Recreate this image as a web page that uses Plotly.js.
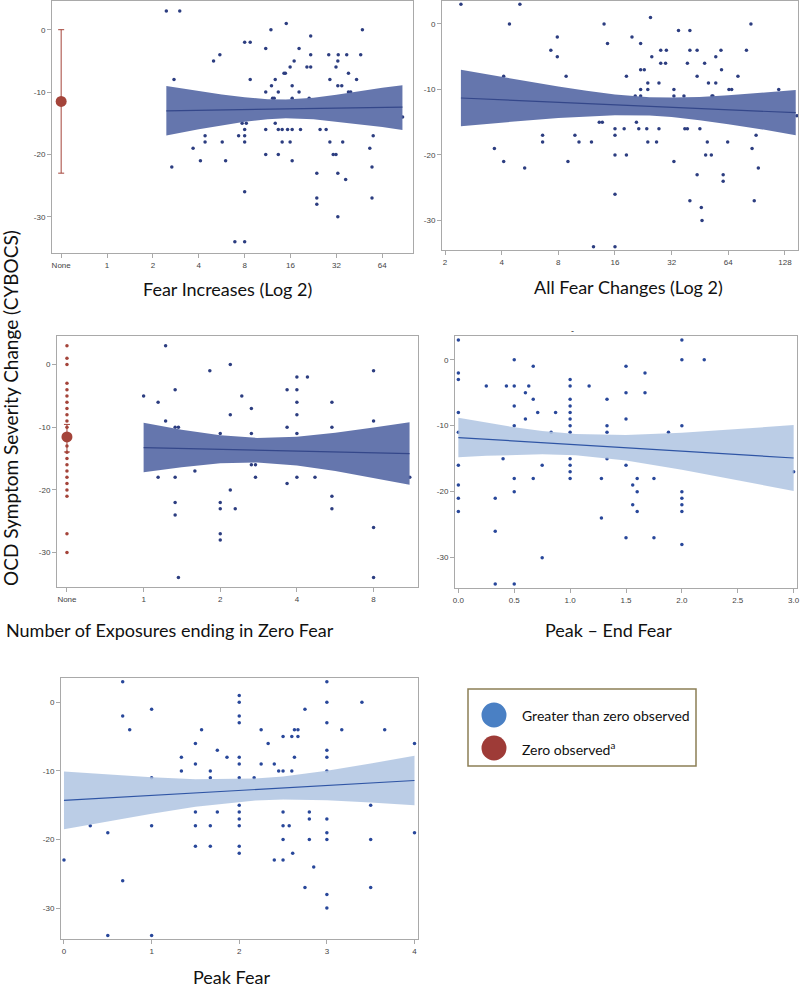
<!DOCTYPE html>
<html><head><meta charset="utf-8">
<script src="https://cdn.plot.ly/plotly-3.0.1.min.js"></script>
<style>html,body{margin:0;padding:0;background:#fff}#chart{width:800px;height:988px}</style>
</head><body><div id="chart"></div>
<script>
// ---------- Panel 1: Fear Increases (Log 2) ----------
const fearIncX = [2.45,3.0,2.75,2.66,3.67,4.1,4.4,4.4,5.0,5.5,5.7,6.0,6.9,7.3,8.0,8.7,8.7,7.7,8.2,8.0,8.0,8.0,8.0,8.0,11,11,11,11,11.9,12,12.2,12.5,12.7,12.7,13.3,13.3,14.1,13.3,14.1,14.5,14.8,15,15.3,15.9,15.9,16.4,16.4,16.4,16.4,16.9,18.2,18.2,18.6,20.5,21.2,21.7,21.7,21.7,23.8,23.8,23.8,25,27.4,28.5,29,29,30.5,31.8,31.8,32.7,32.9,32.7,32.7,32.7,34.7,35.2,37.4,36.8,38.4,38.4,39.7,43.4,46.2,47.4,53,54.8,54.8,55.8,87];
const fearIncY = [3,3,-8,-22,-19,-21,-17,-18,-5,-4,-18,-21,-34,-17,-2,-2,-8,-15,-15,-16,-17,-18,-26,-34,-3,-10,-16,-20,0,-9,-11,-11,-8,-15,-10,-16,-16,-20,-18,-7,-7,1,-16,-6,-18,-9,-11,-16,-21,-5,-3,-10,-16,-6,-11,-1,-4,-6,-23,-27,-28,-16,-16,-4,-8,-18,-20,-20,-6,-5,-4,-9,-23,-30,-9,-18,-4,-24,-7,-10,-10,-8,-4,0,-19,-22,-27,-17,-14];
const fearIncZeroMean = -11.5, fearIncZeroUp = 11.5, fearIncZeroDown = 11.5;
const fearIncBandX  = [2.45,4,5.66,8,11.31,14.93,22.63,32,45.25,64,86.8];
const fearIncBandHi = [-9.04,-9.86,-10.39,-10.84,-11.14,-11.2,-10.91,-10.42,-9.81,-9.3,-8.9];
const fearIncBandLo = [-16.96,-15.98,-15.33,-14.76,-14.34,-14.2,-14.35,-14.72,-15.21,-15.6,-16.1];
const fearIncFitX = [2.45,86.8], fearIncFitY = [-13.0,-12.4];
const fearIncTickVals = [0.5,1,2,4,8,16,32,64];
const fearIncTickText = ['None','1','2','4','8','16','32','64'];

// ---------- Panel 2: All Fear Changes (Log 2) ----------
const allChgX = [2.43,5.0,3.66,4.1,4.1,4.4,5.3,6.6,6.6,7.3,7.9,7.9,8.8,9.0,9.8,10.3,12,12.3,13.2,13.7,14,14.6,16,16,16,16,16,17.9,18.4,18.4,19.7,20.5,20.8,21.4,21.9,21.9,22.9,21.9,21.9,23.9,23.9,23.6,23.9,24.7,25.1,26.6,27.4,27.4,28,28,29.7,30,32.9,32.9,32.9,34.8,37.2,37.6,38.8,38.8,40,40,40,43.7,43.7,43.7,45.2,46,46.4,47.9,49.5,48.5,50.2,52,52.4,53,54.9,54.9,58.5,58.9,60.1,60.1,63.5,64.5,66.7,72,79.9,84.4,85.6,87.9,89.9,92.4,118.6,148];
const allChgY = [3,3,-19,-8,-21,0,-22,-17,-18,-4,-2,-5,-8,-21,-17,-18,-18,-34,-15,-15,0,-3,-16,-17,-20,-26,-34,-16,-8,-20,-2,-11,-15,-16,-3,-7,-7,-10,-11,-9,-10,-16,-18,1,-5,-18,-9,-16,-4,-6,-6,-4,-10,-11,-21,-1,-11,-16,-16,-6,-1,-4,-27,-4,-8,-23,-16,-28,-30,-6,-18,-20,-9,-20,-11,-11,-5,-9,-4,-7,-23,-24,-18,-10,-10,-8,-4,0,-19,-27,-17,-22,-10,-14];
const allChgBandX  = [2.43,2.83,4,5.66,8,11.3,16,24.4,32,45,64,100,146];
const allChgBandHi = [-7.0,-7.33,-8.09,-8.83,-9.55,-10.2,-10.76,-11.17,-11.24,-11.14,-10.9,-10.45,-10.1];
const allChgBandLo = [-15.6,-15.43,-15.05,-14.69,-14.37,-14.1,-13.92,-13.97,-14.2,-14.68,-15.3,-16.15,-17.0];
const allChgFitX = [2.43,146], allChgFitY = [-11.3,-13.55];
const allChgTickVals = [2,4,8,16,32,64,128];
const allChgTickText = ['2','4','8','16','32','64','128'];

// ---------- Panel 3: Number of Exposures ending in Zero Fear ----------
const zeroExpX = [1.22,1,1.14,1.22,1.14,1.33,1.33,1.37,1.33,1.33,1.33,1.37,1.59,1.82,2,2,2,2,2,2.19,2.19,2.19,2.29,2.43,2.65,2.65,2.65,2.75,2.75,3.66,3.66,3.66,4,4,4,4,4,4,4.4,4.71,5.49,5.49,5.49,5.49,8,8,8,8,11.1];
const zeroExpY = [3,-5,-6,-9,-18,-4,-10,-10,-18,-22,-24,-34,-17,-1,-11,-22,-23,-27,-28,0,-8,-20,-23,-5,-7,-11,-16,-16,-18,-10,-4,-19,-2,-4,-6,-8,-11,-18,-2,-18,-6,-10,-21,-23,-1,-9,-26,-34,-18];
const zeroExpNoneY = [3,1,0,-3,-4,-5,-6,-7,-8,-9,-10,-12,-13,-14,-15,-16,-17,-18,-19,-20,-21,-27,-30];
const zeroExpMean = -11.55, zeroExpUp = 2.0, zeroExpDown = 2.4;
const zeroExpBandX  = [1,1.41,2,2.79,4,5.66,8,11.08];
const zeroExpBandHi = [-9.3,-10.4,-11.28,-11.71,-11.51,-10.88,-10.05,-9.2];
const zeroExpBandLo = [-17.2,-16.38,-15.76,-15.61,-16.09,-17.0,-18.09,-19.2];
const zeroExpFitX = [1,11.08], zeroExpFitY = [-13.25,-14.2];
const zeroExpTickVals = [0.5,1,2,4,8];
const zeroExpTickText = ['None','1','2','4','8'];

// ---------- Panel 4: Peak – End Fear ----------
const peakEndX = [0,0,0,0,0,0,0,0,0,0.25,0.33,0.33,0.33,0.4,0.43,0.5,0.5,0.5,0.5,0.5,0.5,0.5,0.6,0.6,0.63,0.67,0.67,0.67,0.71,0.75,0.75,0.83,0.87,1,1,1,1,1,1,1,1,1,1,1,1,1.17,1.28,1.28,1.33,1.33,1.33,1.33,1.5,1.5,1.5,1.5,1.5,1.56,1.56,1.6,1.6,1.6,1.67,1.67,1.75,1.75,1.88,2,2,2,2,2,2,2,2,2.2,3];
const peakEndY = [3,-2,-3,-8,-11,-16,-19,-21,-23,-4,-21,-26,-34,-15,-4,0,-4,-7,-10,-18,-20,-34,-5,-9,-4,-1,-6,-18,-8,-16,-30,-11,-8,-3,-4,-6,-7,-8,-9,-10,-11,-15,-16,-17,-18,-4,-18,-24,-6,-10,-11,-15,-1,-5,-9,-16,-27,-19,-22,-18,-20,-23,-2,-5,-18,-27,-11,3,0,-10,-20,-21,-22,-23,-28,0,-17];
const peakEndBandX  = [0,0.25,0.5,0.75,1.05,1.5,2,2.5,3];
const peakEndBandHi = [-8.8,-9.55,-10.24,-10.81,-11.28,-11.41,-11.06,-10.52,-9.9];
const peakEndBandLo = [-14.8,-14.57,-14.4,-14.33,-14.48,-15.29,-16.68,-18.24,-19.9];
const peakEndFitX = [0,3], peakEndFitY = [-11.8,-14.9];
const peakEndTickVals = [0,0.5,1,1.5,2,2.5,3];
const peakEndTickText = ['0.0','0.5','1.0','1.5','2.0','2.5','3.0'];

// ---------- Panel 5: Peak Fear ----------
const peakX = [0.67,0.67,0.67,0.75,1,1,1,0,0.3,0.5,0.5,1,1.34,1.34,1.5,1.5,1.5,1.5,1.5,1.57,1.67,1.67,1.67,1.67,1.75,1.75,1.86,2,2,2,2,2,2,2,2,2,2,2,2,2,2.17,2.25,2.25,2.33,2.4,2.4,2.45,2.5,2.5,2.5,2.5,2.5,2.5,2.57,2.6,2.6,2.61,2.63,2.67,2.67,2.63,2.75,2.75,2.8,2.8,2.8,2.85,3,3,3,3,3,3,3,3,3,3,3,3.17,3.4,3.5,3.5,3.5,3.66,4,4];
const peakY = [3,-2,-26,-4,-1,-18,-11,-23,-18,-19,-34,-34,-8,-10,-6,-9,-16,-18,-21,-4,-10,-11,-18,-21,-7,-16,-8,1,0,-2,-3,-8,-9,-11,-15,-16,-17,-18,-21,-22,-11,-4,-9,-6,-9,-23,-10,-5,-10,-16,-18,-20,-23,-18,-5,-10,-22,-4,-4,-5,-8,-1,-27,-16,-17,-20,-24,3,0,-3,-7,-8,-10,-17,-19,-20,-28,-30,-4,0,-15,-20,-27,-4,-6,-19];
const peakBandX  = [0,0.5,1,1.5,2.185,2.5,3,3.5,4];
const peakBandHi = [-10.1,-10.54,-10.93,-11.2,-11.12,-10.8,-9.97,-8.93,-7.8];
const peakBandLo = [-18.5,-17.34,-16.23,-15.22,-14.32,-14.18,-14.29,-14.59,-15.0];
const peakFitX = [0,4], peakFitY = [-14.3,-11.4];
const peakTickVals = [0,1,2,3,4];
const peakTickText = ['0','1','2','3','4'];

const yTickVals = [0,-10,-20,-30];
const yTickText = ['0','-10','-20','-30'];

// ---------- styling ----------
const DOT = '#2c3d80', DOT2 = '#28479a', RED = '#a4443a';
const DARKBAND = 'rgba(96,114,170,0.97)', DARKLINE = '#34478a';
const LIGHTBAND = 'rgba(178,198,227,0.88)', LIGHTLINE = '#2f55a5';

function band(xs, hi, lo, ax, fill) {
  return {x: xs.concat(xs.slice().reverse()), y: hi.concat(lo.slice().reverse()),
    xaxis: 'x'+ax, yaxis: 'y'+ax, type: 'scatter', mode: 'lines', fill: 'toself',
    fillcolor: fill, line: {width: 0, color: fill}, hoverinfo: 'skip', showlegend: false};
}
function fit(xs, ys, ax, color) {
  return {x: xs, y: ys, xaxis: 'x'+ax, yaxis: 'y'+ax, type: 'scatter', mode: 'lines',
    line: {color: color, width: 1.2}, showlegend: false};
}
function dots(xs, ys, ax, color) {
  return {x: xs, y: ys, xaxis: 'x'+ax, yaxis: 'y'+ax, type: 'scatter', mode: 'markers',
    marker: {color: color, size: 3.5}, showlegend: false};
}
function meanBar(yv, up, down, ax) {
  return {x: [0.5], y: [yv], xaxis: 'x'+ax, yaxis: 'y'+ax, type: 'scatter', mode: 'markers',
    marker: {color: RED, size: 11},
    error_y: {type: 'data', symmetric: false, array: [up], arrayminus: [down], color: RED, thickness: 1, width: 3},
    showlegend: false};
}

const data = [
  dots(fearIncX, fearIncY, '', DOT),
  band(fearIncBandX, fearIncBandHi, fearIncBandLo, '', DARKBAND),
  fit(fearIncFitX, fearIncFitY, '', DARKLINE),
  meanBar(fearIncZeroMean, fearIncZeroUp, fearIncZeroDown, ''),

  dots(allChgX, allChgY, '2', DOT),
  band(allChgBandX, allChgBandHi, allChgBandLo, '2', DARKBAND),
  fit(allChgFitX, allChgFitY, '2', DARKLINE),

  dots(zeroExpX, zeroExpY, '3', DOT),
  band(zeroExpBandX, zeroExpBandHi, zeroExpBandLo, '3', DARKBAND),
  fit(zeroExpFitX, zeroExpFitY, '3', DARKLINE),
  dots(zeroExpNoneY.map(() => 0.5), zeroExpNoneY, '3', RED),
  meanBar(zeroExpMean, zeroExpUp, zeroExpDown, '3'),

  dots(peakEndX, peakEndY, '4', DOT2),
  band(peakEndBandX, peakEndBandHi, peakEndBandLo, '4', LIGHTBAND),
  fit(peakEndFitX, peakEndFitY, '4', LIGHTLINE),

  dots(peakX, peakY, '5', DOT2),
  band(peakBandX, peakBandHi, peakBandLo, '5', LIGHTBAND),
  fit(peakFitX, peakFitY, '5', LIGHTLINE)
];

const W = 800, H = 988;
const px = v => v / W, py = v => 1 - v / H;
const tickFont = {family: 'Liberation Sans, Arial, sans-serif', size: 8, color: '#444'};
const FRAME = '#a9a9a9';

function xax(x0, x1, anchor, type, range, tv, tt) {
  return {domain: [px(x0), px(x1)], anchor: anchor, type: type, range: range,
    tickmode: 'array', tickvals: tv, ticktext: tt, ticks: 'outside', ticklen: 4,
    tickcolor: FRAME, showline: true, mirror: true, linecolor: FRAME, linewidth: 1,
    showgrid: false, zeroline: false, tickfont: tickFont};
}
function yax(y0, y1, anchor, range) {
  return {domain: [py(y1), py(y0)], anchor: anchor, range: range,
    tickmode: 'array', tickvals: yTickVals, ticktext: yTickText, ticks: 'outside', ticklen: 4,
    tickcolor: FRAME, showline: true, mirror: true, linecolor: FRAME, linewidth: 1,
    showgrid: false, zeroline: false, tickfont: tickFont};
}
const L2 = Math.log10(2);

const titleFont = {family: 'Lato, Carlito, sans-serif', size: 18, color: '#111'};
function ann(text, x, y, extra) {
  return Object.assign({text: text, xref: 'paper', yref: 'paper', x: px(x), y: py(y),
    xanchor: 'center', yanchor: 'middle', showarrow: false, font: titleFont}, extra || {});
}
const legFont = {family: 'Lato, Carlito, sans-serif', size: 14, color: '#111'};

const layout = {
  width: W, height: H, margin: {l: 0, r: 0, t: 0, b: 0},
  paper_bgcolor: '#fff', plot_bgcolor: '#fff', showlegend: false,
  xaxis:  xax(52, 413, 'y',  'log', [-1.2*L2, 6.67*L2], fearIncTickVals, fearIncTickText),
  yaxis:  yax(1, 253, 'x', [-35.8, 4.6]),
  xaxis2: xax(442, 798, 'y2', 'log', [0.947*L2, 7.23*L2], allChgTickVals, allChgTickText),
  yaxis2: yax(1, 250, 'x2', [-34.5, 3.5]),
  xaxis3: xax(57, 418, 'y3', 'log', [-1.13*L2, 3.58*L2], zeroExpTickVals, zeroExpTickText),
  yaxis3: yax(336, 587, 'x3', [-35.5, 4.56]),
  xaxis4: xax(455, 797, 'y4', 'linear', [-0.03, 3.03], peakEndTickVals, peakEndTickText),
  yaxis4: yax(336, 588, 'x4', [-34.6, 3.59]),
  xaxis5: xax(61, 418, 'y5', 'linear', [-0.034, 4.04], peakTickVals, peakTickText),
  yaxis5: yax(678, 939, 'x5', [-34.5, 3.54]),
  annotations: [
    ann('Fear Increases (Log 2)', 227, 289),
    ann('All Fear Changes (Log 2)', 628, 287),
    ann('Number of Exposures ending in Zero Fear', 170, 630),
    ann('Peak – End Fear', 608, 630),
    ann('Peak Fear', 231, 977),
    ann('OCD Symptom Severity Change (CYBOCS)', 10, 408, {textangle: -90, font: {family: 'Lato, Carlito, sans-serif', size: 19, color: '#111'}}),
    ann('-', 572, 331, {font: {family: 'Liberation Sans', size: 9, color: '#333'}}),
    ann('Greater than zero observed', 520, 715, {xanchor: 'left', font: legFont}),
    ann('Zero observed<sup>a</sup>', 520, 748, {xanchor: 'left', font: legFont})
  ],
  shapes: [
    {type: 'rect', xref: 'paper', yref: 'paper', x0: px(468), x1: px(696), y0: py(766), y1: py(689),
     line: {color: '#8c7f55', width: 1.5}, fillcolor: 'rgba(0,0,0,0)'},
    {type: 'circle', xref: 'paper', yref: 'paper', x0: px(481.5), x1: px(506.5), y0: py(727.5), y1: py(702.5),
     line: {width: 0}, fillcolor: '#4a80c4'},
    {type: 'circle', xref: 'paper', yref: 'paper', x0: px(481.5), x1: px(506.5), y0: py(760.5), y1: py(735.5),
     line: {width: 0}, fillcolor: '#9e3b37'}
  ]
};

Plotly.newPlot('chart', data, layout, {displayModeBar: false, staticPlot: true});
</script>
</body></html>
